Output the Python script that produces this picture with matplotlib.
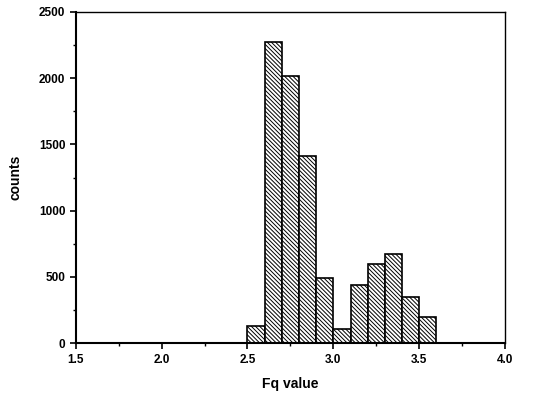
import matplotlib.pyplot as plt
from matplotlib.ticker import MultipleLocator

plt.rcParams['font.family'] = ['Liberation Sans', 'DejaVu Sans']
plt.rcParams['hatch.linewidth'] = 0.7

# bin left edges and counts
bin_left = [2.5, 2.6, 2.7, 2.8, 2.9, 3.0, 3.1, 3.2, 3.3, 3.4, 3.5]
counts = [130, 2270, 2020, 1410, 490, 110, 440, 600, 675, 350, 200]
bin_width = 0.1

fig = plt.figure(figsize=(5.49, 3.99), dpi=100)
ax = fig.add_axes([0.138, 0.14, 0.782, 0.83])

ax.bar(bin_left, counts, width=bin_width, align='edge',
       color='white', edgecolor='black', linewidth=1.2, hatch='\\' * 8)

ax.set_xlim(1.5, 4.0)
ax.set_ylim(0, 2500)
ax.xaxis.set_major_locator(MultipleLocator(0.5))
ax.xaxis.set_minor_locator(MultipleLocator(0.25))
ax.yaxis.set_major_locator(MultipleLocator(500))
ax.yaxis.set_minor_locator(MultipleLocator(250))
ax.tick_params(which='major', direction='out', length=4, width=1.2,
               labelsize=8.5)
ax.tick_params(which='minor', direction='out', length=2, width=1)
for lab in ax.get_xticklabels() + ax.get_yticklabels():
    lab.set_fontweight('bold')

ax.spines['left'].set_linewidth(1.5)
ax.spines['bottom'].set_linewidth(1.5)
ax.spines['top'].set_linewidth(1.0)
ax.spines['right'].set_linewidth(1.0)

ax.set_xlabel('Fq value', fontsize=10, fontweight='bold', labelpad=8)
ax.set_ylabel('counts', fontsize=10, fontweight='bold', labelpad=12)

fig.savefig('out.png', dpi=100)
